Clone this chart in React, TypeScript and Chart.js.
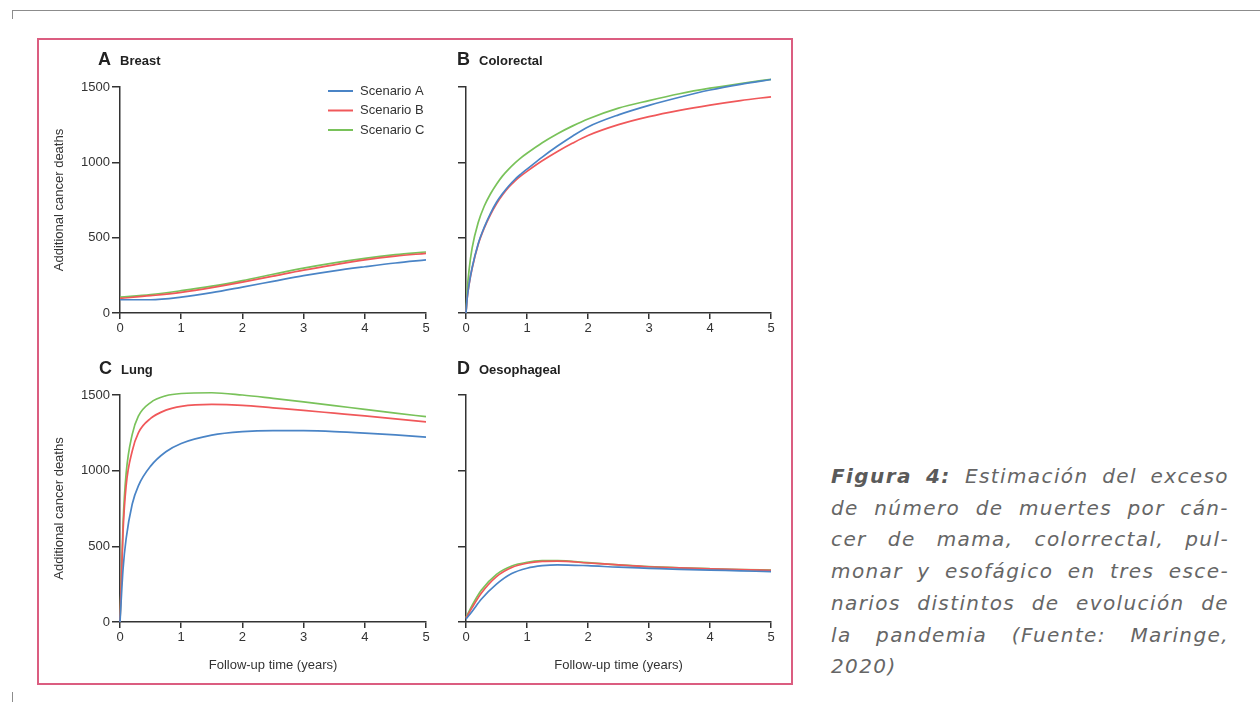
import React, { useEffect, useRef } from "react";
import { Chart, registerables } from "chart.js";

Chart.register(...registerables);

// ---------------- DATA ----------------
const scenarioLabels = ["Scenario A", "Scenario B", "Scenario C"];
const scenarioColors = ["#4a84c6", "#f0585a", "#79c25a"];

const breastYears = [0, 0.5, 1, 1.5, 2, 2.5, 3, 3.5, 4, 4.5, 5];
const breastA = [88, 88, 105, 135, 172, 210, 248, 280, 307, 332, 352];
const breastB = [97, 115, 137, 168, 205, 245, 285, 320, 352, 377, 396];
const breastC = [105, 122, 148, 178, 215, 257, 298, 333, 363, 387, 405];

const colorectalYears = [0, 0.02, 0.05, 0.1, 0.2, 0.3, 0.4, 0.5, 0.6, 0.7, 0.8, 0.9, 1, 1.25, 1.5, 1.75, 2, 2.5, 3, 3.5, 4, 4.5, 5];
const colorectalA = [0, 100, 190, 300, 460, 570, 660, 735, 793, 843, 886, 922, 955, 1035, 1108, 1175, 1235, 1315, 1378, 1432, 1480, 1518, 1550];
const colorectalB = [0, 100, 188, 295, 455, 565, 652, 725, 785, 835, 876, 910, 940, 1010, 1072, 1128, 1178, 1250, 1303, 1345, 1380, 1410, 1435];
const colorectalC = [0, 150, 285, 430, 600, 710, 790, 855, 910, 955, 995, 1030, 1060, 1130, 1190, 1242, 1288, 1360, 1410, 1455, 1492, 1523, 1551];

const lungYears = [0, 0.05, 0.1, 0.2, 0.3, 0.5, 0.75, 1, 1.5, 2, 2.5, 3, 3.5, 4, 4.5, 5];
const lungA = [0, 350, 550, 780, 900, 1030, 1125, 1180, 1235, 1258, 1265, 1264, 1258, 1248, 1236, 1222];
const lungB = [0, 600, 900, 1130, 1250, 1345, 1400, 1425, 1438, 1432, 1415, 1398, 1380, 1362, 1342, 1322];
const lungC = [0, 650, 980, 1240, 1360, 1450, 1495, 1510, 1515, 1500, 1478, 1455, 1430, 1405, 1380, 1357];

const oesoYears = [0, 0.1, 0.25, 0.5, 0.75, 1, 1.25, 1.5, 2, 2.5, 3, 3.5, 4, 4.5, 5];
const oesoA = [20, 70, 150, 250, 320, 355, 372, 378, 372, 362, 355, 348, 343, 338, 333];
const oesoB = [25, 95, 190, 300, 360, 388, 400, 402, 390, 377, 365, 357, 351, 346, 342];
const oesoC = [30, 110, 210, 315, 370, 395, 405, 406, 392, 378, 366, 358, 352, 347, 343];

const xMin = 0;
const xMax = 5;
const xStep = 1;
const yMin = 0;
const yMax = 1500;
const yStep = 500;

const yTitle = "Additional cancer deaths";
const xTitle = "Follow-up time (years)";

const captionLines = [
  "Estimación del exceso",
  "de número de muertes por cán-",
  "cer de mama, colorrectal, pul-",
  "monar y esofágico en tres esce-",
  "narios distintos de evolución de",
  "la pandemia (Fuente: Maringe,",
  "2020)",
];

// ---------------- STYLE ----------------
const FONT = '"Liberation Sans", Arial, sans-serif';
const AXIS = "#333333";
const TEXT = "#333333";

type PanelProps = {
  left: number;
  top: number;
  width: number;
  height: number;
  yWidth: number;
  xHeight: number;
  padTop: number;
  padRight: number;
  showYLabels: boolean;
  showXTitle: boolean;
  showLegend: boolean;
  years: number[];
  series: number[][];
};

function Panel(p: PanelProps) {
  const ref = useRef<HTMLCanvasElement | null>(null);
  useEffect(() => {
    if (!ref.current) return;
    const legendPlugin = {
      id: "insideLegend",
      afterDatasetsDraw(chart: any) {
        if (!p.showLegend) return;
        const { ctx, chartArea } = chart;
        ctx.save();
        ctx.font = `13px ${FONT}`;
        ctx.textBaseline = "middle";
        ctx.textAlign = "left";
        chart.data.datasets.forEach((ds: any, i: number) => {
          const y = chartArea.top + 4 + i * 19.5;
          ctx.strokeStyle = ds.borderColor;
          ctx.lineWidth = 2;
          ctx.beginPath();
          ctx.moveTo(chartArea.right - 98, y);
          ctx.lineTo(chartArea.right - 73, y);
          ctx.stroke();
          ctx.fillStyle = TEXT;
          ctx.fillText(ds.label, chartArea.right - 66, y);
        });
        ctx.restore();
      },
    };
    const chart = new Chart(ref.current, {
      type: "line",
      data: {
        datasets: p.series.map((vals, i) => ({
          label: scenarioLabels[i],
          data: p.years.map((x, j) => ({ x, y: vals[j] })),
          borderColor: scenarioColors[i],
          backgroundColor: scenarioColors[i],
          borderWidth: 1.7,
          pointRadius: 0,
          cubicInterpolationMode: "monotone" as const,
          clip: false as any,
        })),
      },
      options: {
        animation: false,
        responsive: false,
        layout: { padding: { top: p.padTop, right: p.padRight, left: 0, bottom: 0 } },
        plugins: { legend: { display: false }, tooltip: { enabled: false } },
        scales: {
          x: {
            type: "linear",
            min: xMin,
            max: xMax,
            ticks: {
              stepSize: xStep,
              padding: 2,
              color: TEXT,
              font: { size: 13, family: FONT },
              maxRotation: 0,
              callback: (v: any) => String(v),
            },
            grid: { drawOnChartArea: false, drawTicks: true, tickLength: 6, color: AXIS, lineWidth: 1.5 },
            border: { display: true, color: AXIS, width: 1.5 },
            title: {
              display: p.showXTitle,
              text: xTitle,
              color: TEXT,
              font: { size: 13, family: FONT },
              padding: { top: 0, bottom: 17 },
            },
            afterFit: (s: any) => {
              s.height = p.xHeight;
            },
          },
          y: {
            type: "linear",
            min: yMin,
            max: yMax,
            ticks: {
              stepSize: yStep,
              display: p.showYLabels,
              padding: 2,
              color: TEXT,
              font: { size: 13, family: FONT },
              callback: (v: any) => String(v),
            },
            grid: { drawOnChartArea: false, drawTicks: true, tickLength: 8, color: AXIS, lineWidth: 1.5 },
            border: { display: true, color: AXIS, width: 1.5 },
            title: {
              display: p.showYLabels,
              text: yTitle,
              color: TEXT,
              font: { size: 13, family: FONT },
              padding: { top: 12, bottom: 0 },
            },
            afterFit: (s: any) => {
              s.width = p.yWidth;
            },
          },
        },
      },
      plugins: [legendPlugin],
    } as any);
    return () => chart.destroy();
  }, []);
  return (
    <canvas
      ref={ref}
      width={p.width}
      height={p.height}
      style={{ position: "absolute", left: p.left, top: p.top, width: p.width, height: p.height }}
    />
  );
}

function PanelTitle({ x, baseline, letter, name }: { x: number; baseline: number; letter: string; name: string }) {
  return (
    <div
      style={{
        position: "absolute",
        left: x,
        top: baseline - 16,
        fontFamily: FONT,
        fontWeight: "bold",
        fontSize: 18,
        lineHeight: "20px",
        color: "#222",
        whiteSpace: "nowrap",
      }}
    >
      <span>{letter}</span>
      <span style={{ fontSize: 13, marginLeft: 9 }}>{name}</span>
    </div>
  );
}

export default function App() {
  const capFont = '"DejaVu Sans", Verdana, sans-serif';
  return (
    <div style={{ position: "absolute", left: 0, top: 0, width: 1260, height: 702, background: "#fff", overflow: "hidden" }}>
      {/* page frame marks */}
      <div style={{ position: "absolute", left: 12, top: 10, width: 1248, height: 0, borderTop: "1.5px solid #8c8c8c" }} />
      <div style={{ position: "absolute", left: 12, top: 10, width: 0, height: 9, borderLeft: "1px solid #8c8c8c" }} />
      <div style={{ position: "absolute", left: 12, top: 692, width: 0, height: 10, borderLeft: "1px solid #8c8c8c" }} />

      {/* pink figure box */}
      <div
        style={{
          position: "absolute",
          left: 37,
          top: 38,
          width: 752,
          height: 643,
          border: "2px solid #db5d80",
        }}
      />

      <Panel left={40} top={42} width={400} height={300} yWidth={80} xHeight={29} padTop={45} padRight={14}
        showYLabels={true} showXTitle={false} showLegend={true} years={breastYears} series={[breastA, breastB, breastC]} />
      <Panel left={446} top={42} width={340} height={300} yWidth={20} xHeight={29} padTop={45} padRight={15}
        showYLabels={false} showXTitle={false} showLegend={false} years={colorectalYears} series={[colorectalA, colorectalB, colorectalC]} />
      <Panel left={40} top={350} width={400} height={340} yWidth={80} xHeight={68} padTop={45} padRight={14}
        showYLabels={true} showXTitle={true} showLegend={false} years={lungYears} series={[lungA, lungB, lungC]} />
      <Panel left={446} top={350} width={340} height={340} yWidth={20} xHeight={68} padTop={45} padRight={15}
        showYLabels={false} showXTitle={true} showLegend={false} years={oesoYears} series={[oesoA, oesoB, oesoC]} />

      <PanelTitle x={98} baseline={65} letter="A" name="Breast" />
      <PanelTitle x={457} baseline={65} letter="B" name="Colorectal" />
      <PanelTitle x={99} baseline={374} letter="C" name="Lung" />
      <PanelTitle x={457} baseline={374} letter="D" name="Oesophageal" />

      {/* caption */}
      {captionLines.map((line, i) => {
        const last = i === captionLines.length - 1;
        return (
          <div
            key={i}
            style={{
              position: "absolute",
              left: 831,
              top: 461 + i * 31.7,
              width: 398,
              fontFamily: capFont,
              fontStyle: "italic",
              fontSize: 20,
              letterSpacing: "1.4px",
              lineHeight: "31.7px",
              color: "#666666",
              textAlign: last ? "left" : "justify",
              textAlignLast: last ? "left" : "justify",
              whiteSpace: "nowrap",
            } as any}
          >
            {i === 0 ? <b style={{ color: "#5a5a5a" }}>Figura 4: </b> : null}
            {line}
          </div>
        );
      })}
    </div>
  );
}
